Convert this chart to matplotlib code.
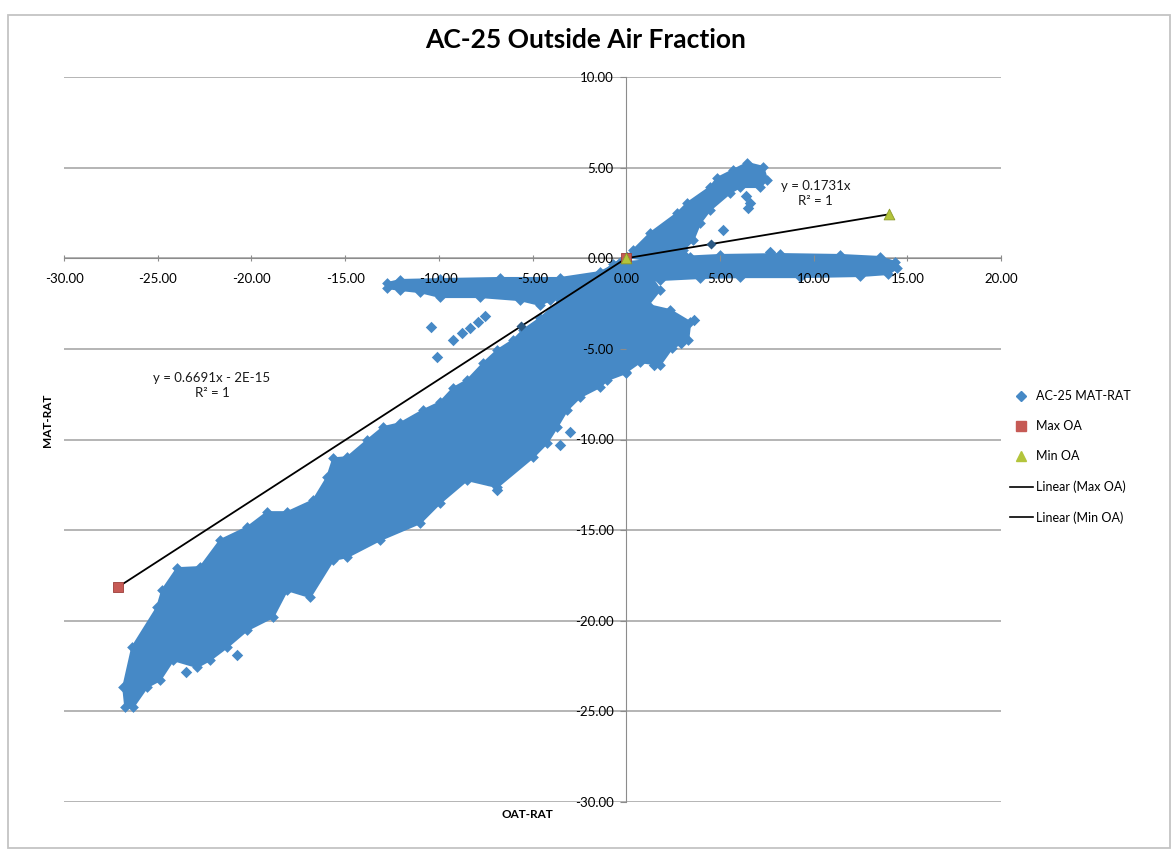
import numpy as np
import matplotlib
matplotlib.use("Agg")
import matplotlib.pyplot as plt
from matplotlib.lines import Line2D
from matplotlib.patches import Rectangle

plt.rcParams["font.family"] = ["Lato", "DejaVu Sans"]

# ── Data ──────────────────────────────────────────────────────
# outline of the dense AC-25 point cloud (main diagonal band)
band_x = [-26.73, -26.84, -26.36, -25.03, -24.76, -23.96, -22.73, -21.66, -20.22,
          -19.16, -18.09, -16.70, -15.96, -15.63, -14.89, -13.82, -12.97, -12.06,
          -10.83, -9.93, -9.23, -8.48, -7.63, -6.88, -6.03, -5.50, -4.59, -3.52,
          -2.45, -1.39, -0.69, 0.05,
          0.00, -1.01, -1.39, -2.45, -3.15, -3.68, -4.22, -4.96, -6.88, -8.48,
          -9.93, -10.99, -13.13, -14.89, -15.63, -16.86, -18.09, -18.84, -20.22,
          -21.29, -22.20, -22.89, -24.17, -24.87, -25.56, -26.31]
band_y = [-24.77, -23.66, -21.46, -19.26, -18.31, -17.10, -17.04, -15.55, -14.84,
          -14.01, -14.01, -13.35, -12.09, -11.04, -10.98, -10.04, -9.32, -9.10,
          -8.38, -7.94, -7.16, -6.72, -5.79, -5.07, -4.51, -3.96, -3.30, -2.31,
          -1.65, -0.87, -0.32, 0.07,
          -6.33, -6.72, -7.10, -7.66, -8.38, -9.31, -10.20, -10.98, -12.63, -12.24,
          -13.51, -14.61, -15.55, -16.49, -16.65, -18.70, -18.31, -19.80, -20.52,
          -21.46, -22.17, -22.56, -22.17, -23.28, -23.66, -24.77]

# horizontal arm left of the origin
left_arm_x = [-12.75, -12.06, -9.93, -6.72, -3.52, -1.39, -0.32,
              -1.39, -4.06, -4.59, -5.66, -7.79, -9.93, -10.99, -12.06, -12.75]
left_arm_y = [-1.37, -1.20, -1.15, -1.09, -1.09, -0.76, -0.21,
              -1.75, -2.31, -2.58, -2.31, -2.14, -2.14, -1.87, -1.75, -1.64]

# horizontal arm right of the origin
right_arm_x = [0.10, 2.88, 5.02, 8.22, 11.42, 13.55, 14.35, 14.46, 13.98,
               12.49, 9.28, 6.08, 3.95, 1.81, 0.10]
right_arm_y = [-0.21, 0.07, 0.18, 0.23, 0.18, 0.07, -0.21, -0.54, -0.87,
               -0.98, -1.04, -1.04, -1.09, -1.20, -1.31]

# arm rising above the origin
upper_arm_x = [0.05, 0.37, 1.28, 2.72, 3.26, 4.48, 4.86, 5.71, 6.46, 7.31,
               7.52, 7.15, 6.08, 5.55, 4.48, 3.95, 3.58, 3.04, 3.42, 1.81]
upper_arm_y = [0.07, 0.45, 1.39, 2.49, 3.05, 3.93, 4.43, 4.87, 5.26, 5.04,
               4.32, 3.93, 3.93, 3.60, 2.66, 1.94, 1.00, 0.45, 0.07, -0.21]

# blob right of the vertical axis, below zero
lower_right_x = [0.00, 1.28, 1.81, 1.17, 2.35, 3.42, 3.31, 2.45, 1.81, 0.75, 0.00]
lower_right_y = [-0.21, -0.93, -1.75, -2.58, -2.86, -3.52, -4.51, -4.96, -5.89, -5.73, -6.28]

# loose AC-25 points outside the dense areas
loose_x = [-10.41, -10.09, -9.23, -8.75, -8.32, -7.90, -7.52, 5.18, 7.68, 6.40,
           6.62, 6.50, -7.36, -6.90, -3.52, -3.00, -20.76, -23.50, -25.90,
           -21.50, 3.60, 2.90, 1.50]
loose_y = [-3.81, -5.46, -4.51, -4.13, -3.85, -3.52, -3.19, 1.56, 0.34, 3.43,
           3.05, 2.75, -12.24, -12.80, -10.31, -9.60, -21.90, -22.80, -23.20,
           -21.25, -3.40, -4.70, -5.90]

# darker points sitting on the trend lines
on_line_x = [-5.60, 4.50]
on_line_y = [-3.75, 0.78]

max_oa_x = [-27.10, 0.00]
max_oa_y = [-18.13, 0.00]
min_oa_x = [14.00, 0.00]
min_oa_y = [2.42, 0.00]

x_ticks = [-30, -25, -20, -15, -10, -5, 0, 5, 10, 15, 20]
y_ticks = [10, 5, 0, -5, -10, -15, -20, -25, -30]

BLUE = "#4689c6"
RED = "#c65a55"
GREEN = "#b3c43b"
GRID = "#a0a0a0"

# ── Figure ────────────────────────────────────────────────────
W, H = 1175, 852
fig = plt.figure(figsize=(W / 100, H / 100), dpi=100)
fig.patches.append(Rectangle((8 / W, 1 - 848 / H), 1162 / W, 833 / H,
                             transform=fig.transFigure, fill=False,
                             ec="#c4c4c4", lw=1.3))

ax = fig.add_axes([64 / W, 1 - 802 / H, 937 / W, 725 / H])
ax.set_xlim(-30, 20)
ax.set_ylim(-30, 10)
ax.patch.set_alpha(0)

for v in y_ticks:
    ax.axhline(v, color=GRID, lw=1.1, zorder=0.3)

# point cloud
for px, py in [(band_x, band_y), (left_arm_x, left_arm_y),
               (right_arm_x, right_arm_y), (upper_arm_x, upper_arm_y),
               (lower_right_x, lower_right_y)]:
    ax.fill(px, py, color=BLUE, ec=BLUE, lw=1.5, zorder=1)
    ax.scatter(px, py, marker="D", s=30, color=BLUE, lw=0, zorder=1.1)
ax.scatter(loose_x, loose_y, marker="D", s=34, color=BLUE, lw=0, zorder=1.1)
ax.scatter(on_line_x, on_line_y, marker="D", s=26, color="#2c5a85", lw=0, zorder=3.2)

# trend lines
for sx, sy in [(max_oa_x, max_oa_y), (min_oa_x, min_oa_y)]:
    k, b = np.polyfit(sx, sy, 1)
    xs = np.array([min(sx), max(sx)])
    ax.plot(xs, k * xs + b, color="black", lw=1.3, zorder=3)

ax.scatter(max_oa_x, max_oa_y, marker="s", s=55, color=RED, ec="#9c3f3b",
           lw=0.6, zorder=4)
ax.scatter(min_oa_x, min_oa_y, marker="^", s=60, color=GREEN, ec="#8c9a2a",
           lw=0.6, zorder=4.1)

ax.text(-22.1, -7.0, "y = 0.6691x - 2E-15\nR² = 1", ha="center", va="center",
        fontsize=9.5, linespacing=1.3, color="#1a1a1a")
ax.text(10.1, 3.55, "y = 0.1731x\nR² = 1", ha="center", va="center",
        fontsize=9.5, linespacing=1.3, color="#1a1a1a")

# axes crossing at the origin
for side in ["top", "right"]:
    ax.spines[side].set_visible(False)
for side in ["left", "bottom"]:
    ax.spines[side].set_position(("data", 0))
    ax.spines[side].set_color("#8c8c8c")
    ax.spines[side].set_zorder(0.6)

ax.set_xticks(x_ticks)
ax.set_xticklabels([f"{v:.2f}" for v in x_ticks])
ax.set_yticks(y_ticks)
ax.set_yticklabels([f"{v:.2f}" for v in y_ticks])
ax.tick_params(axis="x", direction="inout", length=5, pad=8, labelsize=9.5,
               color="#8c8c8c")
ax.tick_params(axis="y", direction="out", length=4, pad=5, labelsize=9.5,
               color="#8c8c8c")

fig.text(586 / W, 1 - 40 / H, "AC-25 Outside Air Fraction", ha="center",
         va="center", fontsize=19, fontweight="bold")
fig.text(527 / W, 1 - 815 / H, "OAT-RAT", ha="center", va="center",
         fontsize=8.5, fontweight="bold")
fig.text(47 / W, 1 - 420 / H, "MAT-RAT", ha="center", va="center",
         fontsize=8.5, fontweight="bold", rotation=90)

handles = [
    Line2D([], [], ls="none", marker="D", ms=5, color=BLUE),
    Line2D([], [], ls="none", marker="s", ms=7, color=RED),
    Line2D([], [], ls="none", marker="^", ms=7, color=GREEN),
    Line2D([], [], color="black", lw=1.2),
    Line2D([], [], color="black", lw=1.2),
]
labels = ["AC-25 MAT-RAT", "Max OA", "Min OA", "Linear (Max OA)", "Linear (Min OA)"]
fig.legend(handles, labels, loc="upper left", bbox_to_anchor=(1005 / W, 1 - 385 / H),
           frameon=False, fontsize=9, handlelength=1.8, handletextpad=0.25,
           labelspacing=1.45, borderaxespad=0)

fig.savefig("out.png", dpi=100)
